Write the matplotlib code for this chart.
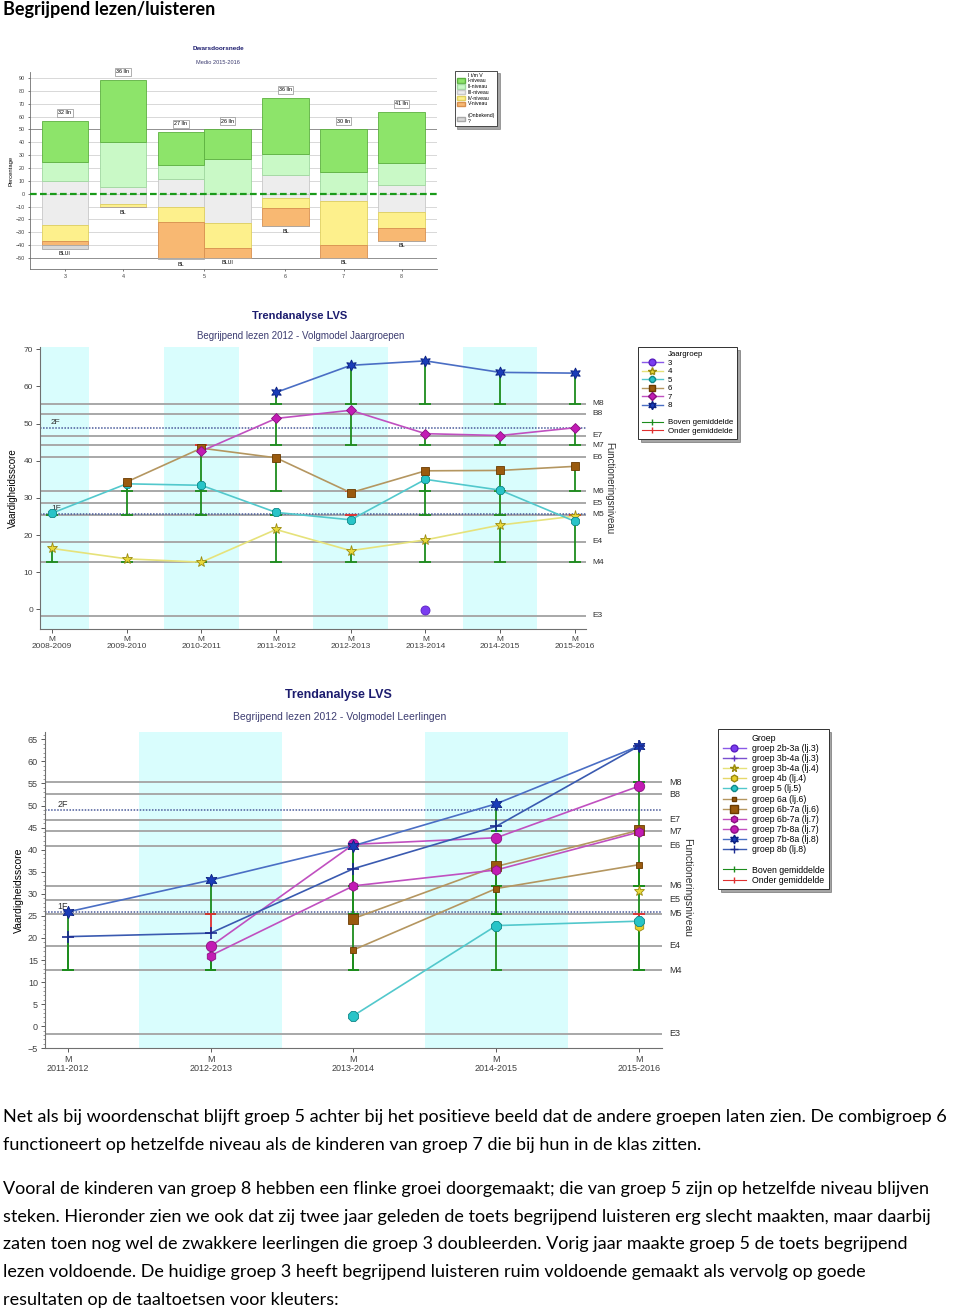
import numpy as np
import matplotlib
matplotlib.use("Agg")
import matplotlib.pyplot as plt
import matplotlib.transforms as mtrans
from matplotlib.lines import Line2D
from matplotlib.patches import Patch

plt.rcParams['font.family'] = ['Liberation Sans', 'DejaVu Sans']

W, H = 960, 1313
n = np.nan

##############################################################################
# data - Dwarsdoorsnede (percentages per niveau, medio 2015-2016)
cross_groups = ["3", "4", "5", "5", "6", "7", "8"]
cross_counts = [32, 36, 27, 26, 36, 30, 41]
cross_notes = ["BLUI", "BL", "BL", "BLUI", "BL", "BL", "BL"]
niv_I = [31.5, 48.5, 26, 23, 43.5, 33.5, 39.5]
niv_II = [15.5, 34.5, 10.5, 27, 16.5, 16.5, 17]
niv_III_up = [9.5, 5.5, 11.5, 0, 14.5, 0, 7]
niv_III_down = [24.5, 8, 10.5, 23, 3, 6, 14]
niv_IV = [12.5, 2.5, 11.5, 19, 8, 34, 13]
niv_V = [3, 0, 28, 8, 14.5, 10, 9.5]
niv_unknown = [3, 0, 1, 0, 0, 0, 0]

# norm lines (functioneringsniveau) shared by both trend charts
level_names = ["M8", "B8", "E7", "M7", "E6", "M6", "E5", "M5", "E4", "M4", "E3"]
level_values = [55.3, 52.6, 46.8, 44.2, 40.9, 31.8, 28.6, 25.5, 18.2, 12.7, -1.7]
ref_names = ["2F", "1F"]
ref_values = [48.9, 25.8]

# data - Volgmodel Jaargroepen
jg_years = ["2008-2009", "2009-2010", "2010-2011", "2011-2012",
            "2012-2013", "2013-2014", "2014-2015", "2015-2016"]
jg_names = ["3", "4", "5", "6", "7", "8"]
jg3 = [n, n, n, n, n, -0.3, n, n]
jg4 = [16.4, 13.6, 12.7, 21.5, 15.8, 18.7, 22.7, 25.1]
jg5 = [25.9, 33.8, 33.4, 26.1, 24.1, 35.0, 32.1, 23.7]
jg6 = [n, 34.3, 43.4, 40.8, 31.4, 37.3, 37.4, 38.5]
jg7 = [n, n, 42.6, 51.4, 53.6, 47.3, 46.8, 48.9]
jg8 = [n, n, n, 58.4, 65.7, 66.9, 63.8, 63.6]

# data - Volgmodel Leerlingen
ll_years = ["2011-2012", "2012-2013", "2013-2014", "2014-2015", "2015-2016"]
ll_names = ["groep 2b-3a (lj.3)", "groep 3b-4a (lj.3)", "groep 3b-4a (lj.4)",
            "groep 4b (lj.4)", "groep 5 (lj.5)", "groep 6a (lj.6)",
            "groep 6b-7a (lj.6)", "groep 6b-7a (lj.7)", "groep 7b-8a (lj.7)",
            "groep 7b-8a (lj.8)", "groep 8b (lj.8)"]
ll_grades = [3, 3, 4, 4, 5, 6, 6, 7, 7, 8, 8]
ll_2b3a_l3 = [n, n, n, n, n]
ll_3b4a_l3 = [n, n, n, n, n]
ll_3b4a_l4 = [n, n, n, n, 30.6]
ll_4b_l4 = [n, n, n, n, 22.8]
ll_5_l5 = [n, n, 2.4, 22.8, 23.8]
ll_6a_l6 = [n, n, 17.3, 31.2, 36.6]
ll_6b7a_l6 = [n, n, 24.4, 36.2, 44.4]
ll_6b7a_l7 = [n, 16.0, 31.8, 35.4, 44.0]
ll_7b8a_l7 = [n, 18.1, 41.2, 42.7, 54.4]
ll_7b8a_l8 = [25.9, 33.1, 40.9, 50.4, 63.5]
ll_8b_l8 = [20.3, 21.1, 35.7, 45.3, 63.5]

heading = "Begrijpend lezen/luisteren"
paragraph_lines = [
    "Net als bij woordenschat blijft groep 5 achter bij het positieve beeld dat de andere groepen laten zien. De combigroep 6",
    "functioneert op hetzelfde niveau als de kinderen van groep 7 die bij hun in de klas zitten.",
    "",
    "Vooral de kinderen van groep 8 hebben een flinke groei doorgemaakt; die van groep 5 zijn op hetzelfde niveau blijven",
    "steken. Hieronder zien we ook dat zij twee jaar geleden de toets begrijpend luisteren erg slecht maakten, maar daarbij",
    "zaten toen nog wel de zwakkere leerlingen die groep 3 doubleerden. Vorig jaar maakte groep 5 de toets begrijpend",
    "lezen voldoende. De huidige groep 3 heeft begrijpend luisteren ruim voldoende gemaakt als vervolg op goede",
    "resultaten op de taaltoetsen voor kleuters:",
]

##############################################################################

def box(l, t, r, b):
    return [l / W, 1 - b / H, (r - l) / W, (b - t) / H]

def ftext(x, y, s, **kw):
    fig.text(x / W, 1 - y / H, s, **kw)

NAVY = '#1c1c6e'
SUB = '#3c3c70'
GREEN = '#1c8c1c'
RED = '#e03030'
BAND = '#d9fdfd'

fig = plt.figure(figsize=(W / 100, H / 100), dpi=100)

ftext(3, 9, heading, fontsize=13, fontweight='bold', family=['Lato', 'DejaVu Sans'],
      va='center', ha='left')

##############################################################################
# Dwarsdoorsnede

ax1 = fig.add_axes(box(30, 72, 437, 269))
pos = [0.0]
for i in range(1, len(cross_groups)):
    pos.append(pos[-1] + (0.8 if cross_groups[i] == cross_groups[i - 1] else 1.0))
pos = np.array(pos)
bw = 0.8

c_I, c_II, c_III, c_IV, c_V, c_U = '#8de46a', '#c9f9c6', '#ededed', '#fdf08c', '#f8b872', '#d8d8d8'
e_I, e_II, e_III, e_IV, e_V, e_U = '#5cb040', '#a0d8a0', '#c8c8c8', '#e0d060', '#d89050', '#a8a8a8'

up_bottom = np.zeros(len(pos))
for vals, fc, ec in [(niv_III_up, c_III, e_III), (niv_II, c_II, e_II), (niv_I, c_I, e_I)]:
    ax1.bar(pos, vals, bw, bottom=up_bottom, color=fc, edgecolor=ec, linewidth=0.6, zorder=3)
    up_bottom += np.array(vals)
down_bottom = np.zeros(len(pos))
for vals, fc, ec in [(niv_III_down, c_III, e_III), (niv_IV, c_IV, e_IV),
                     (niv_V, c_V, e_V), (niv_unknown, c_U, e_U)]:
    v = -np.array(vals)
    ax1.bar(pos, v, bw, bottom=down_bottom, color=fc, edgecolor=ec, linewidth=0.6, zorder=3)
    down_bottom += v

for p, top, cnt in zip(pos, up_bottom, cross_counts):
    ax1.text(p, top + 6.3, f"{cnt} lln", ha='center', va='center', fontsize=3.9, zorder=5,
             bbox=dict(boxstyle='square,pad=0.25', fc='white', ec='#909090', lw=0.5))
for p, bot, note in zip(pos, down_bottom, cross_notes):
    ax1.text(p, bot - 3.8, note, ha='center', va='center', fontsize=3.9, zorder=5)

ax1.axhline(0, color='#1a9a1a', lw=1.6, ls=(0, (3, 1.5)), zorder=4)
for g in range(-50, 91, 10):
    if g != 0:
        ax1.axhline(g, color='#909090' if abs(g) == 50 else '#d8d8d8', lw=0.7, zorder=1)
ax1.set_xlim(-0.6, 6.41)
ax1.set_ylim(-58.6, 94.7)
ax1.set_yticks(range(-50, 91, 10))
uniq = list(dict.fromkeys(cross_groups))
ax1.set_xticks([pos[[g == u for g in cross_groups]].mean() for u in uniq])
ax1.set_xticklabels(uniq)
ax1.tick_params(labelsize=3.9, length=1.5, width=0.5, colors='#404040', pad=2)
for s in ['top', 'right']:
    ax1.spines[s].set_visible(False)
for s in ['left', 'bottom']:
    ax1.spines[s].set_color('#707070')
    ax1.spines[s].set_linewidth(0.6)
ax1.set_ylabel('Percentage', fontsize=4.2, labelpad=2)

ftext(218, 49, 'Dwarsdoorsnede', fontsize=4.6, fontweight='bold', color=NAVY, ha='center', va='center')
ftext(218, 62, 'Medio 2015-2016', fontsize=4.1, color=SUB, ha='center', va='center')

leg_h = [Patch(visible=False), Patch(fc=c_I, ec=e_I), Patch(fc=c_II, ec=e_II),
         Patch(fc=c_III, ec=e_III), Patch(fc=c_IV, ec=e_IV), Patch(fc=c_V, ec=e_V),
         Patch(visible=False), Patch(fc=c_U, ec=e_U)]
leg_l = ['I t/m V', 'I-niveau', 'II-niveau', 'III-niveau', 'IV-niveau', 'V-niveau', ' ', '(Onbekend)\n?']
lg = ax1.legend(leg_h, leg_l, loc='upper left', bbox_to_anchor=(452 / W, 1 - 68 / H),
                bbox_transform=fig.transFigure, fontsize=3.7, frameon=True, fancybox=False,
                shadow=True, edgecolor='#303030', handlelength=1.6, handleheight=0.9,
                labelspacing=0.15, borderpad=0.4, handletextpad=0.6)
lg.get_frame().set_linewidth(0.6)

##############################################################################
# trend chart helpers

def trend_axes(rect, years, ylim, xr, ticks, fs):
    ax = fig.add_axes(rect)
    x = np.arange(len(years))
    for i, yr in enumerate(years):
        if int(yr[:4]) % 2 == 0:
            ax.axvspan(i - 0.5, i + 0.5, color=BAND, lw=0, zorder=0)
    for v in level_values:
        ax.axhline(v, color='#a8a8a8', lw=1.4, zorder=1)
    for v in ref_values:
        ax.axhline(v, color='#4a5a9a', lw=1.1, ls=(0, (1, 1)), zorder=1.5)
    tr = mtrans.blended_transform_factory(ax.transAxes, ax.transData)
    for nm, v in zip(level_names, level_values):
        ax.text(1.012, v, nm, transform=tr, fontsize=fs, color='#303030', va='center', ha='left')
    for nm, v in zip(ref_names, ref_values):
        ax.text(0.02, v + 0.4, nm, transform=tr, fontsize=fs, color='#303030', va='bottom', ha='left')
    ax.set_xlim(*xr)
    ax.set_ylim(*ylim)
    ax.set_yticks(ticks)
    ax.set_xticks(x)
    ax.set_xticklabels(["M\n" + y for y in years], linespacing=1.0)
    ax.tick_params(labelsize=fs, length=3, width=0.6, colors='#404040', pad=2)
    for s in ['top', 'right']:
        ax.spines[s].set_visible(False)
    for s in ['left', 'bottom']:
        ax.spines[s].set_color('#707070')
    return ax

norm = {int(nm[1]): v for nm, v in zip(level_names, level_values) if nm.startswith('M')}

def error_bars(ax, x, vals, grades, cap):
    for xi, v, g in zip(x, vals, grades):
        if np.isnan(v) or g not in norm:
            continue
        m = norm[g]
        c = GREEN if v >= m else RED
        ax.vlines(xi, min(v, m), max(v, m), color=c, lw=1.3, zorder=2)
        ax.hlines(m, xi - cap, xi + cap, color=c, lw=1.3, zorder=2)

##############################################################################
# Volgmodel Jaargroepen

jg_style = {
    "3": dict(marker='o', mfc='#7a3cf0', mec='#5a20c0', color='#8a5ae8'),
    "4": dict(marker='*', mfc='#e8d83a', mec='#9a8a10', color='#e6e27a'),
    "5": dict(marker='8', mfc='#28c4c8', mec='#108888', color='#52c8cc'),
    "6": dict(marker='s', mfc='#9a5a0e', mec='#6a3a00', color='#b49660'),
    "7": dict(marker='D', mfc='#c21cb4', mec='#8a1080', color='#c050c0'),
    "8": dict(marker=(6, 1, 0), mfc='#1a3cb8', mec='#0a2080', color='#4a6ec4'),
}
jg_ms = {"3": 6.5, "4": 8, "5": 7, "6": 5.5, "7": 5, "8": 8}

ax2 = trend_axes(box(40, 347.5, 586, 629.4), jg_years, (-5.4, 70.5), (-0.16, 7.15),
                 range(0, 71, 10), 6)
xj = np.arange(len(jg_years))
jg_data = [jg3, jg4, jg5, jg6, jg7, jg8]
for nm, vals in zip(jg_names, jg_data):
    error_bars(ax2, xj, vals, [int(nm)] * len(xj), 0.08)
for nm, vals in zip(jg_names, jg_data):
    st = jg_style[nm]
    ax2.plot(xj, vals, color=st['color'], lw=1.2, zorder=3)
    ax2.plot(xj, vals, ls='none', marker=st['marker'], mfc=st['mfc'], mec=st['mec'],
             mew=0.6, ms=jg_ms[nm], zorder=4)
ax2.set_ylabel('Vaardigheidsscore', fontsize=7, labelpad=4)

ftext(300, 316, 'Trendanalyse LVS', fontsize=8, fontweight='bold', color=NAVY, ha='center', va='center')
ftext(301, 336, 'Begrijpend lezen 2012 - Volgmodel Jaargroepen', fontsize=7, color=SUB,
      ha='center', va='center')
ftext(609, 488, 'Functioneringsniveau', fontsize=7, rotation=270, ha='center', va='center', color='#303030')

h2 = [Line2D([], [], visible=False)]
l2 = ['Jaargroep']
for nm in jg_names:
    st = jg_style[nm]
    h2.append(Line2D([], [], color=st['color'], lw=1, marker=st['marker'], mfc=st['mfc'],
                     mec=st['mec'], ms=jg_ms[nm] * 0.75))
    l2.append(nm)
h2 += [Line2D([], [], visible=False),
       Line2D([], [], color=GREEN, lw=0.8, marker='|', ms=4),
       Line2D([], [], color=RED, lw=0.8, marker='|', ms=4)]
l2 += [' ', 'Boven gemiddelde', 'Onder gemiddelde']
lg2 = ax2.legend(h2, l2, loc='upper left', bbox_to_anchor=(634 / W, 1 - 343 / H),
                 bbox_transform=fig.transFigure, fontsize=5.7, frameon=True, fancybox=False,
                 shadow=True, edgecolor='#303030', handlelength=2.6, labelspacing=0.12,
                 borderpad=0.5, handletextpad=0.7)
lg2.get_frame().set_linewidth(0.7)

##############################################################################
# Volgmodel Leerlingen

ll_style = [
    dict(marker='o', mfc='#7a3cf0', mec='#5a20c0', color='#8a5ae8', ms=7),
    dict(marker='+', mfc='#6030c0', mec='#6030c0', color='#7a50d0', ms=7),
    dict(marker='*', mfc='#e8d83a', mec='#9a8a10', color='#e6e27a', ms=8),
    dict(marker='h', mfc='#e8d02a', mec='#9a8a10', color='#e6d86a', ms=7),
    dict(marker='8', mfc='#28c4c8', mec='#108888', color='#52c8cc', ms=7.5),
    dict(marker='s', mfc='#9a5a0e', mec='#6a3a00', color='#b49660', ms=5),
    dict(marker='s', mfc='#9a5a0e', mec='#6a3a00', color='#b49660', ms=7.5),
    dict(marker='h', mfc='#c21cb4', mec='#8a1080', color='#c050c0', ms=7),
    dict(marker='o', mfc='#c21cb4', mec='#8a1080', color='#c050c0', ms=7.5),
    dict(marker=(6, 1, 0), mfc='#1a3cb8', mec='#0a2080', color='#4a6ec4', ms=9),
    dict(marker='+', mfc='#1a2a90', mec='#1a2a90', color='#3a5ab0', ms=8),
]
ll_data = [ll_2b3a_l3, ll_3b4a_l3, ll_3b4a_l4, ll_4b_l4, ll_5_l5, ll_6a_l6,
           ll_6b7a_l6, ll_6b7a_l7, ll_7b8a_l7, ll_7b8a_l8, ll_8b_l8]

ax3 = trend_axes(box(45, 731.8, 662, 1048.3), ll_years, (-5, 66.7), (-0.16, 4.16),
                 range(-5, 66, 5), 6.5)
ax3.set_yticks(range(-5, 67, 1), minor=True)
ax3.tick_params(which='minor', length=1.5, width=0.5, colors='#707070')
xl = np.arange(len(ll_years))
for g, vals in zip(ll_grades, ll_data):
    grades = [g - (len(xl) - 1 - i) for i in xl]
    error_bars(ax3, xl, vals, grades, 0.04)
for st, vals in zip(ll_style, ll_data):
    ax3.plot(xl, vals, color=st['color'], lw=1.2, zorder=3)
    ax3.plot(xl, vals, ls='none', marker=st['marker'], mfc=st['mfc'], mec=st['mec'],
             mew=1.2 if st['marker'] == '+' else 0.6, ms=st['ms'], zorder=4)
ax3.set_ylabel('Vaardigheidsscore', fontsize=7.5, labelpad=3)

ftext(338, 695, 'Trendanalyse LVS', fontsize=9, fontweight='bold', color=NAVY, ha='center', va='center')
ftext(340, 717, 'Begrijpend lezen 2012 - Volgmodel Leerlingen', fontsize=7.5, color=SUB,
      ha='center', va='center')
ftext(687, 888, 'Functioneringsniveau', fontsize=7.5, rotation=270, ha='center', va='center', color='#303030')

h3 = [Line2D([], [], visible=False)]
l3 = ['Groep']
for st, nm in zip(ll_style, ll_names):
    h3.append(Line2D([], [], color=st['color'], lw=1, marker=st['marker'], mfc=st['mfc'],
                     mec=st['mec'], ms=st['ms'] * 0.7))
    l3.append(nm)
h3 += [Line2D([], [], visible=False),
       Line2D([], [], color=GREEN, lw=0.8, marker='|', ms=4),
       Line2D([], [], color=RED, lw=0.8, marker='|', ms=4)]
l3 += [' ', 'Boven gemiddelde', 'Onder gemiddelde']
lg3 = ax3.legend(h3, l3, loc='upper left', bbox_to_anchor=(714 / W, 1 - 725 / H),
                 bbox_transform=fig.transFigure, fontsize=6.3, frameon=True, fancybox=False,
                 shadow=True, edgecolor='#303030', handlelength=2.6, labelspacing=0.13,
                 borderpad=0.5, handletextpad=0.7)
lg3.get_frame().set_linewidth(0.7)

##############################################################################
# text below the charts

line_y = 1117
for line in paragraph_lines:
    if line:
        ftext(3, line_y, line, fontsize=13, family=['Lato', 'DejaVu Sans'], va='center', ha='left')
    line_y += 27.6 if line else 17

fig.savefig('out.png', dpi=100)
